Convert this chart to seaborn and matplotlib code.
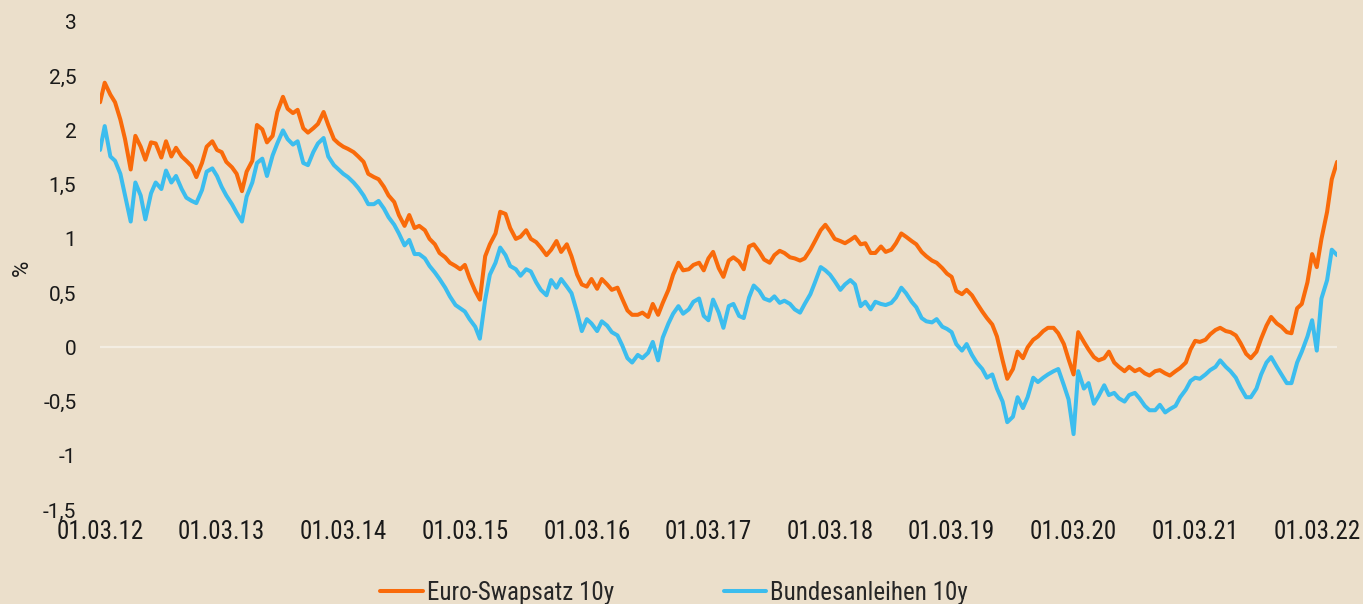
import pandas as pd
import numpy as np
import matplotlib
matplotlib.use("Agg")
import matplotlib.pyplot as plt
import seaborn as sns

# half-monthly readings (1st and 15th), 01.03.2012 - 01.05.2022
dates = pd.date_range("2012-03-01", periods=245, freq="SMS")

swap_10y = [
    2.26, 2.44, 2.33, 2.26, 2.10, 1.92, 1.64, 1.95, 1.85, 1.73, 1.89, 1.88,
    1.75, 1.90, 1.76, 1.84, 1.76, 1.72, 1.67, 1.57, 1.70, 1.85, 1.90, 1.82,
    1.80, 1.71, 1.66, 1.60, 1.44, 1.62, 1.72, 2.05, 2.01, 1.89, 1.95, 2.17,
    2.31, 2.20, 2.16, 2.19, 2.02, 1.98, 2.02, 2.06, 2.17, 2.05, 1.92, 1.88,
    1.85, 1.83, 1.80, 1.76, 1.71, 1.60, 1.57, 1.55, 1.48, 1.40, 1.34, 1.22,
    1.12, 1.22, 1.10, 1.12, 1.08, 1.00, 0.95, 0.87, 0.83, 0.78, 0.75, 0.72,
    0.76, 0.64, 0.52, 0.44, 0.84, 0.95, 1.05, 1.25, 1.23, 1.10, 1.00, 1.02,
    1.08, 1.00, 0.97, 0.92, 0.85, 0.90, 0.98, 0.88, 0.95, 0.84, 0.67, 0.58,
    0.56, 0.63, 0.54, 0.63, 0.58, 0.53, 0.55, 0.45, 0.34, 0.30, 0.30, 0.32,
    0.28, 0.40, 0.30, 0.41, 0.53, 0.67, 0.78, 0.71, 0.72, 0.76, 0.78, 0.71,
    0.82, 0.88, 0.73, 0.65, 0.80, 0.83, 0.79, 0.72, 0.93, 0.95, 0.88, 0.81,
    0.78, 0.85, 0.89, 0.87, 0.83, 0.82, 0.80, 0.82, 0.90, 0.98, 1.08, 1.13,
    1.07, 1.00, 0.98, 0.96, 0.99, 1.02, 0.95, 0.96, 0.87, 0.87, 0.93, 0.88,
    0.90, 0.96, 1.05, 1.02, 0.98, 0.95, 0.88, 0.84, 0.80, 0.78, 0.73, 0.68,
    0.65, 0.52, 0.49, 0.53, 0.48, 0.41, 0.33, 0.27, 0.21, 0.10, -0.12, -0.29,
    -0.20, -0.04, -0.10, 0.00, 0.07, 0.10, 0.15, 0.18, 0.18, 0.13, 0.03, -0.11,
    -0.25, 0.14, 0.05, -0.02, -0.09, -0.12, -0.10, -0.04, -0.14, -0.18, -0.22, -0.18,
    -0.22, -0.20, -0.24, -0.26, -0.22, -0.21, -0.24, -0.26, -0.22, -0.19, -0.14, -0.02,
    0.06, 0.05, 0.07, 0.12, 0.16, 0.18, 0.15, 0.14, 0.11, 0.04, -0.06, -0.10,
    -0.04, 0.08, 0.20, 0.28, 0.22, 0.19, 0.14, 0.13, 0.36, 0.40, 0.60, 0.86,
    0.74, 1.00, 1.25, 1.55, 1.71,
]

bund_10y = [
    1.82, 2.04, 1.76, 1.72, 1.60, 1.40, 1.16, 1.52, 1.40, 1.18, 1.42, 1.52,
    1.46, 1.63, 1.52, 1.58, 1.46, 1.38, 1.35, 1.33, 1.45, 1.62, 1.65, 1.58,
    1.48, 1.40, 1.32, 1.24, 1.16, 1.39, 1.52, 1.70, 1.74, 1.58, 1.77, 1.88,
    2.00, 1.92, 1.87, 1.90, 1.70, 1.68, 1.80, 1.88, 1.93, 1.76, 1.68, 1.64,
    1.60, 1.57, 1.52, 1.47, 1.40, 1.32, 1.32, 1.35, 1.28, 1.20, 1.13, 1.05,
    0.94, 0.99, 0.86, 0.86, 0.82, 0.75, 0.69, 0.63, 0.55, 0.47, 0.39, 0.36,
    0.33, 0.26, 0.19, 0.08, 0.44, 0.67, 0.78, 0.92, 0.85, 0.75, 0.72, 0.66,
    0.72, 0.70, 0.60, 0.53, 0.48, 0.62, 0.55, 0.63, 0.56, 0.50, 0.32, 0.15,
    0.26, 0.22, 0.15, 0.24, 0.20, 0.14, 0.11, 0.02, -0.10, -0.14, -0.07, -0.10,
    -0.05, 0.05, -0.12, 0.09, 0.22, 0.31, 0.38, 0.31, 0.35, 0.42, 0.45, 0.29,
    0.25, 0.44, 0.32, 0.18, 0.38, 0.40, 0.29, 0.27, 0.46, 0.57, 0.52, 0.45,
    0.43, 0.47, 0.41, 0.43, 0.40, 0.35, 0.32, 0.40, 0.49, 0.60, 0.74, 0.71,
    0.67, 0.61, 0.53, 0.58, 0.62, 0.58, 0.38, 0.42, 0.35, 0.42, 0.40, 0.39,
    0.41, 0.46, 0.55, 0.50, 0.42, 0.37, 0.27, 0.24, 0.23, 0.26, 0.19, 0.17,
    0.14, 0.03, -0.03, 0.03, -0.07, -0.14, -0.20, -0.28, -0.25, -0.38, -0.50, -0.69,
    -0.64, -0.46, -0.56, -0.46, -0.28, -0.32, -0.28, -0.25, -0.22, -0.20, -0.35, -0.48,
    -0.80, -0.22, -0.38, -0.33, -0.52, -0.45, -0.35, -0.44, -0.42, -0.47, -0.50, -0.44,
    -0.42, -0.47, -0.54, -0.58, -0.58, -0.53, -0.60, -0.57, -0.54, -0.46, -0.39, -0.31,
    -0.28, -0.29, -0.25, -0.21, -0.18, -0.12, -0.18, -0.22, -0.28, -0.37, -0.46, -0.46,
    -0.38, -0.25, -0.14, -0.09, -0.18, -0.25, -0.33, -0.33, -0.14, -0.04, 0.10, 0.25,
    -0.03, 0.45, 0.62, 0.90, 0.85,
]

series_names = ["Euro-Swapsatz 10y", "Bundesanleihen 10y"]
series_colors = ["#F96A0A", "#3CBDEE"]

tick_dates = pd.to_datetime(["2012-03-01", "2013-03-01", "2014-03-01", "2015-03-01",
                             "2016-03-01", "2017-03-01", "2018-03-01", "2019-03-01",
                             "2020-03-01", "2021-03-01", "2022-03-01"])
tick_labels = ["01.03.12", "01.03.13", "01.03.14", "01.03.15", "01.03.16", "01.03.17",
               "01.03.18", "01.03.19", "01.03.20", "01.03.21", "01.03.22"]
y_ticks = [-1.5, -1, -0.5, 0, 0.5, 1, 1.5, 2, 2.5, 3]
y_labels = ["-1,5", "-1", "-0,5", "0", "0,5", "1", "1,5", "2", "2,5", "3"]

df = pd.DataFrame({"Datum": list(dates) * 2,
                   "Wert": swap_10y + bund_10y,
                   "Serie": [series_names[0]] * len(dates) + [series_names[1]] * len(dates)})

bg = "#EBDFCB"
sns.set_style("white", {"axes.facecolor": bg, "figure.facecolor": bg})
narrow = ["Roboto Condensed", "Liberation Sans Narrow", "DejaVu Sans"]
narrow_font = {"family": narrow, "stretch": "condensed"}

fig = plt.figure(figsize=(13.63, 6.04), dpi=100)
ax = fig.add_axes([0.0734, 0.1556, 0.9076, 0.808])

ax.axhline(0, color="#F3EDE2", lw=1.6, zorder=1)
sns.lineplot(data=df, x="Datum", y="Wert", hue="Serie", hue_order=series_names,
             palette=series_colors, linewidth=2.9, ax=ax, legend=True, zorder=3)

ax.set_xlim(dates[0], dates[-1])
ax.set_ylim(-1.5, 3)
ax.set_xticks(tick_dates)
ax.set_xticklabels(tick_labels, fontsize=18, color="#1a1a1a", **narrow_font)
ax.set_yticks(y_ticks)
ax.set_yticklabels(y_labels, family="Roboto", fontsize=15, color="#1a1a1a")
ax.tick_params(axis="x", length=0, pad=7)
ax.tick_params(axis="y", length=0, pad=17)
ax.set_xlabel("")
ax.set_ylabel("")
for s in ax.spines.values():
    s.set_visible(False)

fig.text(22 / 1363, 1 - 268 / 604, "%", family="Roboto", fontsize=16, color="#1a1a1a",
         rotation=90, ha="center", va="center")

handles, labels = ax.get_legend_handles_labels()
ax.get_legend().remove()
fig.legend(handles, labels, loc="center", bbox_to_anchor=(0.4945, 0.018), ncol=2,
           frameon=False, prop={"family": narrow, "stretch": "condensed", "size": 18},
           handlelength=1.7, handletextpad=0.15, columnspacing=4.4)

fig.savefig("out.png", dpi=100, facecolor=bg)
